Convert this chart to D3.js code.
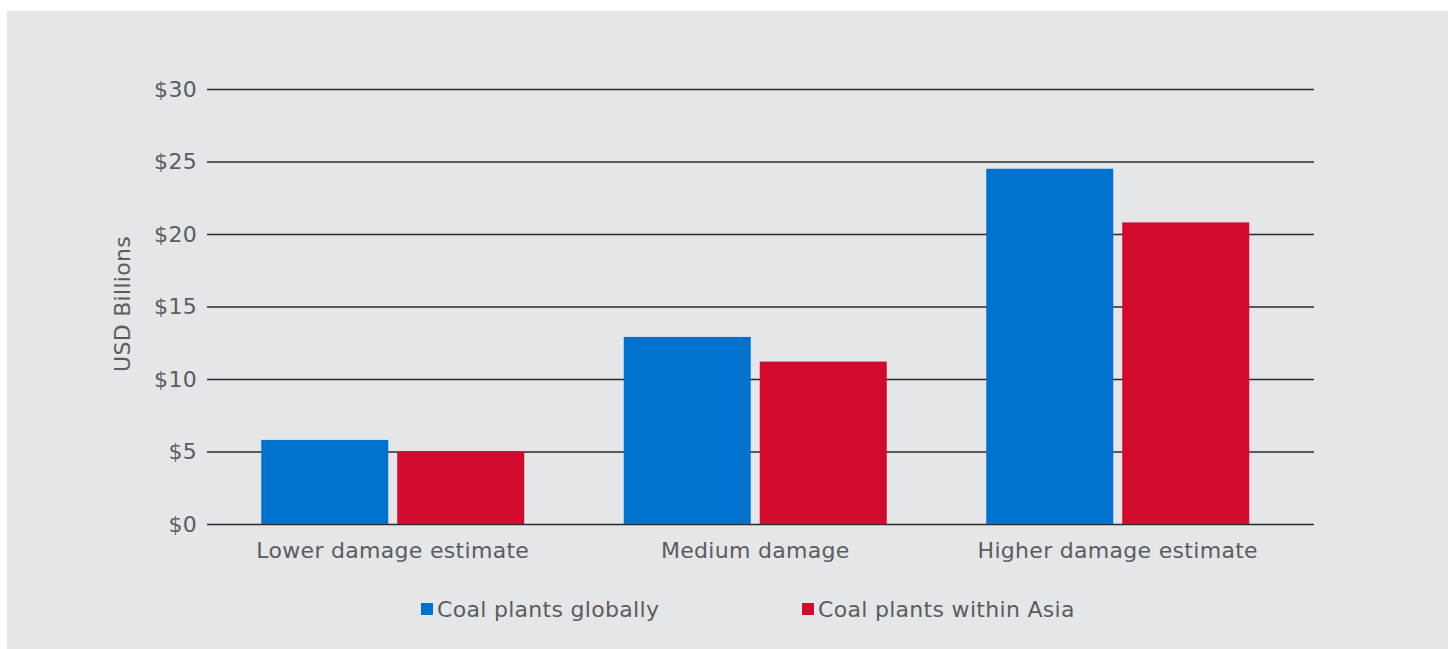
<!DOCTYPE html>
<html>
<head>
<meta charset="utf-8">
<script src="https://cdn.jsdelivr.net/npm/d3@7"></script>
<style>
  html, body { margin: 0; padding: 0; background: #ffffff; }
  svg { display: block; }
  text { font-family: "DejaVu Sans", sans-serif; fill: #5b5c5e; letter-spacing: 0.3px; }
</style>
</head>
<body>
<svg id="chart" width="1448" height="649"></svg>
<script>
// Estimated costs by damage scenario (USD billions)
const categories = ["Lower damage estimate", "Medium damage", "Higher damage estimate"];
const seriesNames = ["Coal plants globally", "Coal plants within Asia"];
const globalValues = [5.8, 12.9, 24.5];
const asiaValues = [5.0, 11.2, 20.8];
const yTicks = [0, 5, 10, 15, 20, 25, 30];
const seriesColors = ["#0071ce", "#d10a2e"];
const yTitle = "USD Billions";

const rows = categories.map((c, i) => ({ category: c, values: [globalValues[i], asiaValues[i]] }));

const svg = d3.select("#chart");
const fontSize = 22;

// panel background
svg.append("rect")
  .attr("x", 7).attr("y", 11)
  .attr("width", 1441).attr("height", 638)
  .attr("fill", "#e5e6e8");

const plot = { left: 207, right: 1314, top: 89, bottom: 524 };

const y = d3.scaleLinear().domain([0, 30]).range([plot.bottom, plot.top]);

const x0 = d3.scaleBand()
  .domain(categories)
  .range([211.25, 1298.75])
  .padding(0);

const x1 = d3.scaleBand()
  .domain([0, 1])
  .range([50, 313])
  .paddingInner(9 / 136)
  .paddingOuter(0);

// horizontal grid lines and y tick labels
const yAxis = d3.axisLeft(y)
  .tickValues(yTicks)
  .tickSize(-(plot.right - plot.left))
  .tickPadding(10)
  .tickFormat(d => "$" + d);

const gy = svg.append("g")
  .attr("transform", `translate(${plot.left},0)`)
  .call(yAxis);
gy.select(".domain").remove();
gy.selectAll(".tick line")
  .attr("stroke", "#2b2b2b")
  .attr("stroke-width", 1.4);
gy.selectAll(".tick text")
  .attr("x", -10)
  .attr("font-size", fontSize)
  .style("font-family", null)
  .style("fill", null);

// bars
const groups = svg.append("g").selectAll("g")
  .data(rows)
  .join("g")
  .attr("transform", d => `translate(${x0(d.category)},0)`);

groups.selectAll("rect")
  .data(d => d.values.map((v, k) => ({ k, v })))
  .join("rect")
  .attr("x", d => x1(d.k))
  .attr("width", x1.bandwidth())
  .attr("y", d => y(d.v))
  .attr("height", d => y(0) - y(d.v))
  .attr("fill", d => seriesColors[d.k]);

// category labels
const xAxis = d3.axisBottom(x0).tickSize(0).tickPadding(18);
const gx = svg.append("g")
  .attr("transform", `translate(0,${plot.bottom})`)
  .call(xAxis);
gx.select(".domain").remove();
gx.selectAll(".tick").attr("transform", d => `translate(${x0(d) + 50 + 263 / 2},0)`);
gx.selectAll(".tick text")
  .attr("font-size", fontSize);

gx.attr("font-family", null);
gy.attr("font-family", null);

// y axis title
svg.append("text")
  .attr("transform", "translate(130,304) rotate(-90)")
  .attr("text-anchor", "middle")
  .attr("font-size", fontSize)
  .text(yTitle);

// legend
const legendX = [421, 802];
const legend = svg.append("g").selectAll("g")
  .data(seriesNames)
  .join("g")
  .attr("transform", (d, i) => `translate(${legendX[i]},603)`);
legend.append("rect")
  .attr("width", 12).attr("height", 12)
  .attr("fill", (d, i) => seriesColors[i]);
legend.append("text")
  .attr("x", 16).attr("y", 14)
  .attr("font-size", fontSize)
  .text(d => d);
</script>
</body>
</html>
